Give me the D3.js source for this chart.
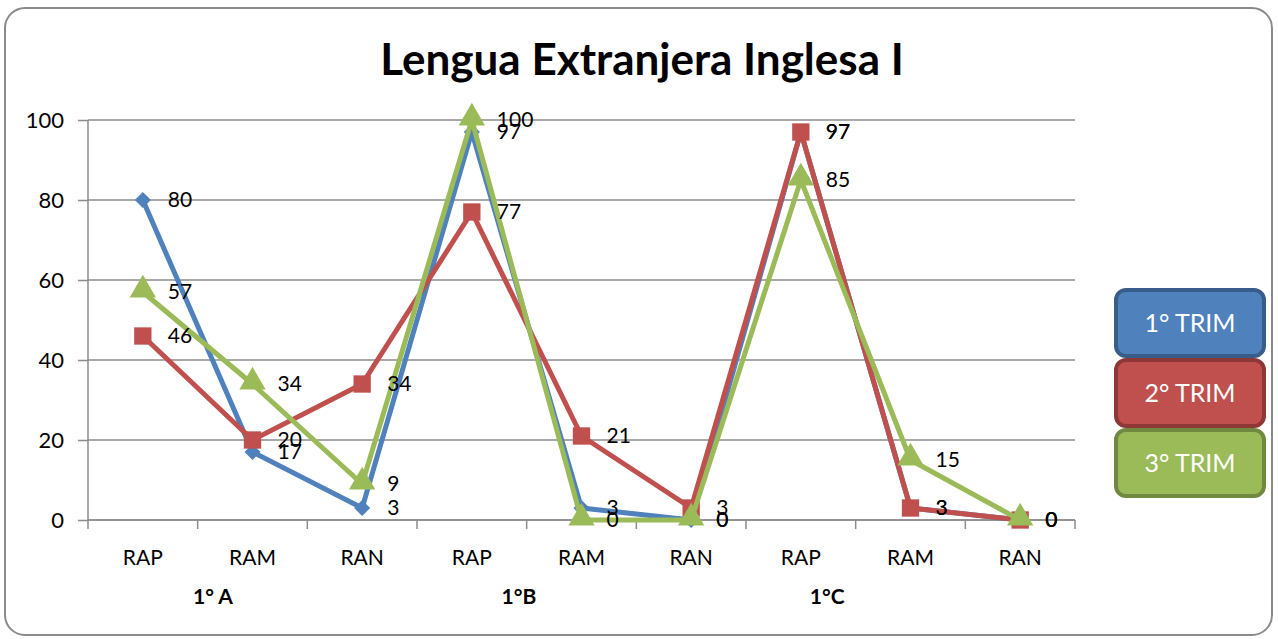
<!DOCTYPE html>
<html>
<head>
<meta charset="utf-8">
<title>Lengua Extranjera Inglesa I</title>
<script src="https://cdn.jsdelivr.net/npm/d3@7"></script>
<style>
	body { margin: 0; background: #fff; }
	text { font-family: Lato, "Open Sans", sans-serif; fill: #000; }
	.grid line { stroke: #8c8c8c; stroke-width: 1.5; }
	.axis path, .axis line { stroke: #8c8c8c; stroke-width: 1.5; }
	.lbl { font-size: 21px; }
</style>
</head>
<body>
<svg width="1278" height="639"></svg>
<script>
	// data
	var categories = ['RAP', 'RAM', 'RAN', 'RAP', 'RAM', 'RAN', 'RAP', 'RAM', 'RAN'];
	var groups = ['1° A', '1°B', '1°C'];
	var groupPos = [1.14, 3.93, 6.74];
	var seriesNames = ['1° TRIM', '2° TRIM', '3° TRIM'];
	var trim1 = [80, 17, 3, 97, 3, 0, 97, 3, 0];
	var trim2 = [46, 20, 34, 77, 21, 3, 97, 3, 0];
	var trim3 = [57, 34, 9, 100, 0, 0, 85, 15, 0];
	var yTicks = [0, 20, 40, 60, 80, 100];

	var colors = ['#4f81bd', '#c0504d', '#9bbb59'];
	var borders = ['#385d8a', '#8c3836', '#71893f'];
	var symbols = [d3.symbolSquare, d3.symbolSquare, d3.symbolTriangle];
	var symSize = [130, 300, 300];
	var symRot = [45, 0, 0];
	var series = [trim1, trim2, trim3];

	var svg = d3.select('svg');

	// outer frame
	svg.append('rect')
		.attr('x', 5).attr('y', 8).attr('width', 1267).attr('height', 627)
		.attr('rx', 20)
		.attr('fill', '#fff').attr('stroke', '#8a8a8a').attr('stroke-width', 2);

	svg.append('text')
		.attr('x', 642).attr('y', 75)
		.attr('text-anchor', 'middle')
		.style('font-size', '44px').style('font-weight', 'bold')
		.text('Lengua Extranjera Inglesa I');

	var pLeft = 88, pRight = 1075, pTop = 120, pBottom = 520;

	var x = d3.scaleBand().domain(d3.range(categories.length)).range([pLeft, pRight]);
	var xi = d3.scaleLinear().domain([0, categories.length]).range([pLeft, pRight]);
	var y = d3.scaleLinear().domain([0, 100]).range([pBottom, pTop]);

	// grid
	svg.append('g').attr('class', 'grid')
		.selectAll('line').data(yTicks).enter().append('line')
		.attr('x1', pLeft).attr('x2', pRight)
		.attr('y1', function(d) { return y(d); })
		.attr('y2', function(d) { return y(d); });

	// y axis
	var ya = svg.append('g').attr('class', 'axis')
		.attr('transform', 'translate(' + pLeft + ',0)')
		.call(d3.axisLeft(y).tickValues(yTicks).tickSize(10).tickPadding(14));
	ya.select('.domain').remove();
	ya.append('line').attr('y1', pTop).attr('y2', pBottom);
	ya.selectAll('text').style('font-size', '22px').style('font-family', 'Lato, sans-serif').attr('fill', '#000');

	// x axis: ticks at boundaries
	var xa = svg.append('g').attr('class', 'axis')
		.attr('transform', 'translate(0,' + pBottom + ')');
	xa.append('line').attr('x1', pLeft).attr('x2', pRight);
	xa.selectAll('.tk').data(d3.range(categories.length + 1)).enter().append('line')
		.attr('x1', function(d) { return xi(d); })
		.attr('x2', function(d) { return xi(d); })
		.attr('y1', 0).attr('y2', 9);
	xa.selectAll('.cat').data(categories).enter().append('text')
		.attr('x', function(d, i) { return x(i) + x.bandwidth() / 2; })
		.attr('y', 45)
		.attr('text-anchor', 'middle')
		.style('font-size', '21px')
		.text(function(d) { return d; });
	xa.selectAll('.grp').data(groups).enter().append('text')
		.attr('x', function(d, i) { return xi(groupPos[i]); })
		.attr('y', 84)
		.attr('text-anchor', 'middle')
		.style('font-size', '21px').style('font-weight', 'bold')
		.text(function(d) { return d; });

	var line = d3.line()
		.x(function(d, i) { return x(i) + x.bandwidth() / 2; })
		.y(function(d) { return y(d); });

	series.forEach(function(s, k) {
		var g = svg.append('g');
		g.append('path').datum(s)
			.attr('d', line)
			.attr('fill', 'none')
			.attr('stroke', colors[k])
			.attr('stroke-width', 5)
			.attr('stroke-linejoin', 'round');
		g.selectAll('.m').data(s).enter().append('path')
			.attr('d', d3.symbol().type(symbols[k]).size(symSize[k]))
			.attr('fill', colors[k])
			.attr('transform', function(d, i) {
				var dy = k === 2 ? -2 : 0;
				return 'translate(' + (x(i) + x.bandwidth() / 2) + ',' + (y(d) + dy) + ') rotate(' + symRot[k] + ')';
			});
	});

	// data labels
	series.forEach(function(s, k) {
		svg.append('g').selectAll('text').data(s).enter().append('text')
			.attr('class', 'lbl')
			.attr('x', function(d, i) { return x(i) + x.bandwidth() / 2 + 25; })
			.attr('y', function(d) { return y(d); })
			.attr('dy', '0.35em')
			.text(function(d) { return d; });
	});

	// legend
	var lg = svg.append('g');
	seriesNames.forEach(function(n, k) {
		var ly = 290 + k * 70;
		lg.append('rect')
			.attr('x', 1116).attr('y', ly).attr('width', 148).attr('height', 66)
			.attr('rx', 10)
			.attr('fill', colors[k]).attr('stroke', borders[k]).attr('stroke-width', 4);
		lg.append('text')
			.attr('x', 1190).attr('y', ly + 33).attr('dy', '0.35em')
			.attr('text-anchor', 'middle')
			.style('font-size', '25px').style('fill', '#fff')
			.text(n);
	});
</script>
</body>
</html>
